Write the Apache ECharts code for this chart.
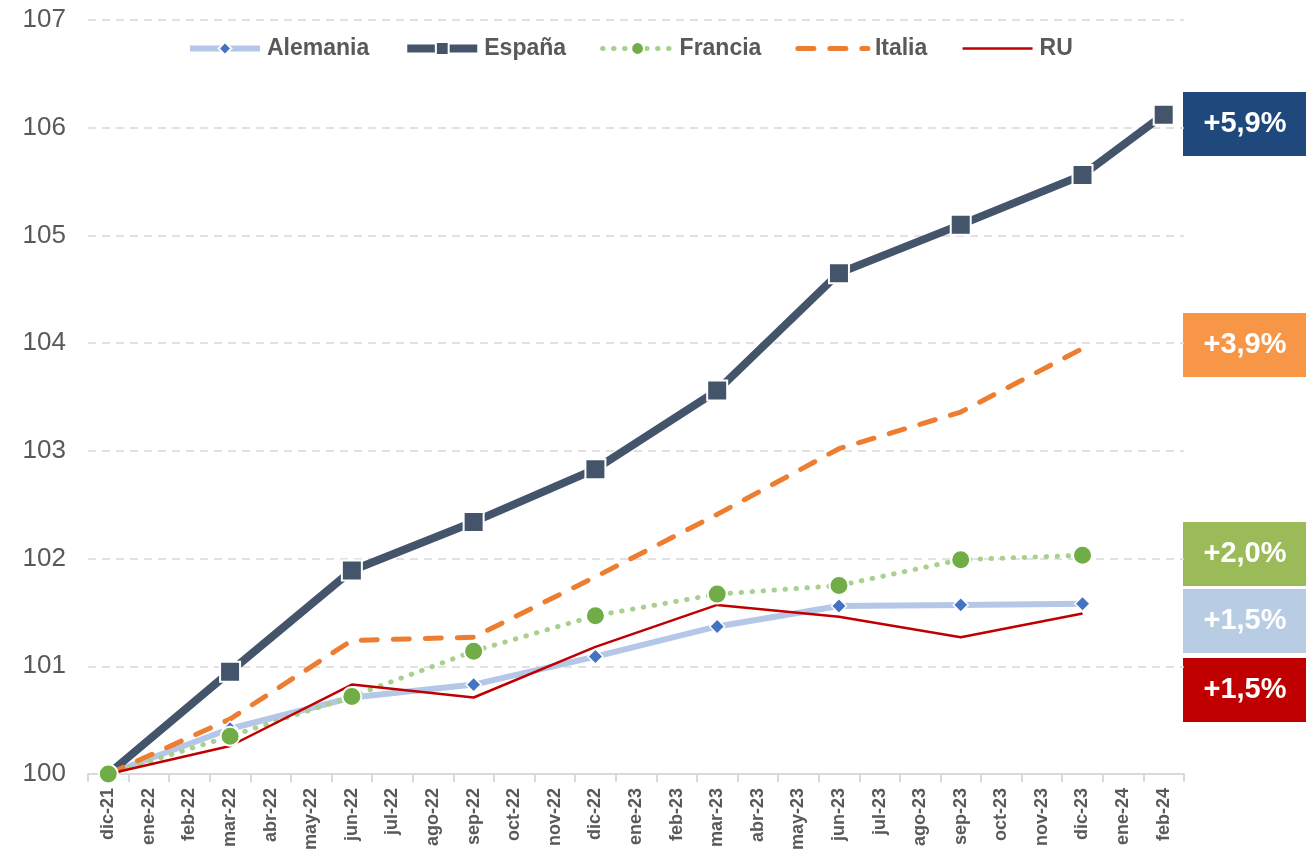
<!DOCTYPE html>
<html>
<head>
<meta charset="utf-8">
<script src="https://cdn.jsdelivr.net/npm/echarts@6/dist/echarts.min.js"></script>
<style>
  html, body { margin: 0; padding: 0; background: #fff; }
  #chart { width: 1306px; height: 861px; }
</style>
</head>
<body>
<div id="chart"></div>
<script>
// meses (eje X)
const months = ['dic-21','ene-22','feb-22','mar-22','abr-22','may-22','jun-22','jul-22','ago-22',
  'sep-22','oct-22','nov-22','dic-22','ene-23','feb-23','mar-23','abr-23','may-23','jun-23',
  'jul-23','ago-23','sep-23','oct-23','nov-23','dic-23','ene-24','feb-24'];
const n = null;
// índices (dic-21 = 100), datos trimestrales
const alemania = [100,n,n,100.42,n,n,100.71,n,n,100.83,n,n,101.09,n,n,101.37,n,n,101.56,n,n,101.57,n,n,101.58,n,n];
const espana   = [100,n,n,100.95,n,n,101.89,n,n,102.34,n,n,102.83,n,n,103.56,n,n,104.65,n,n,105.10,n,n,105.56,n,106.12];
const francia  = [100,n,n,100.35,n,n,100.72,n,n,101.14,n,n,101.47,n,n,101.67,n,n,101.75,n,n,101.99,n,n,102.03,n,n];
const italia   = [100,n,n,100.51,n,n,101.24,n,n,101.27,n,n,101.83,n,n,102.41,n,n,103.02,n,n,103.36,n,n,103.95,n,n];
const ru       = [100,n,n,100.26,n,n,100.83,n,n,100.71,n,n,101.18,n,n,101.57,n,n,101.46,n,n,101.27,n,n,101.49,n,n];
// etiquetas de variación
const badgeText  = ['+5,9%','+3,9%','+2,0%','+1,5%','+1,5%'];
const badgeColor = ['#1F497D','#F79646','#9BBB59','#B8CCE4','#C00000'];
const badgeTop   = [92, 313, 522, 589, 658];

const font = '"Liberation Sans", Arial, sans-serif';
const grey = '#595959';

const myChart = echarts.init(document.getElementById('chart'));

const badges = badgeText.map((t, i) => ({
  type: 'group',
  left: 1183, top: badgeTop[i],
  children: [
    { type: 'rect', shape: { x: 0, y: 0, width: 123, height: 64 }, style: { fill: badgeColor[i] } },
    { type: 'text', x: 62, y: 32, style: { text: t, fill: '#fff', font: 'bold 29px ' + font, align: 'center', verticalAlign: 'middle' } }
  ]
}));

// el primer punto de España queda oculto bajo Francia
const espanaData = espana.map((v, i) => i === 0 ? { value: v, symbol: 'none' } : v);

myChart.setOption({
  animation: false,
  textStyle: { fontFamily: font },
  legend: {
    top: 32, left: 182,
    itemWidth: 70, itemHeight: 16, itemGap: 34,
    lineStyle: { width: 'inherit' },
    textStyle: { color: grey, fontSize: 23, fontWeight: 'bold', fontFamily: font, padding: [0, 0, 0, 2] },
    data: [
      { name: 'Alemania' },
      { name: 'España' },
      { name: 'Francia' },
      { name: 'Italia', itemStyle: { opacity: 0 } },
      { name: 'RU', itemStyle: { opacity: 0 } }
    ]
  },
  grid: { left: 88, right: 122, top: 20, bottom: 87 },
  xAxis: {
    type: 'category',
    data: months,
    boundaryGap: true,
    axisLine: { lineStyle: { color: '#D9D9D9', width: 2 } },
    axisTick: { show: true, length: 8, lineStyle: { color: '#D9D9D9', width: 2 } },
    axisLabel: { interval: 0, rotate: 90, color: grey, fontSize: 18, fontWeight: 'bold', margin: 14, fontFamily: font }
  },
  yAxis: {
    type: 'value',
    min: 100, max: 107, interval: 1,
    axisLine: { show: false },
    axisTick: { show: false },
    axisLabel: { color: grey, fontSize: 26, margin: 22, fontFamily: font },
    splitLine: { lineStyle: { color: '#D9D9D9', type: [8, 6], width: 1.5 } }
  },
  series: [
    {
      name: 'Alemania', type: 'line', data: alemania, connectNulls: true,
      symbol: 'diamond', symbolSize: 15,
      lineStyle: { color: '#B4C7E7', width: 6 },
      itemStyle: { color: '#4472C4', borderColor: '#fff', borderWidth: 1.5 }
    },
    {
      name: 'España', type: 'line', data: espanaData, connectNulls: true,
      symbol: 'rect', symbolSize: 20,
      lineStyle: { color: '#44546A', width: 8 },
      itemStyle: { color: '#44546A', borderColor: '#fff', borderWidth: 2 }
    },
    {
      name: 'Francia', type: 'line', data: francia, connectNulls: true,
      symbol: 'circle', symbolSize: 19,
      lineStyle: { color: '#A9D18E', width: 5, type: [0.5, 10.5], cap: 'round' },
      itemStyle: { color: '#70AD47', borderColor: '#fff', borderWidth: 2 }
    },
    {
      name: 'Italia', type: 'line', data: italia, connectNulls: true,
      symbol: 'none',
      lineStyle: { color: '#ED7D31', width: 5, type: [16, 16], cap: 'round' },
      itemStyle: { color: '#ED7D31' }
    },
    {
      name: 'RU', type: 'line', data: ru, connectNulls: true,
      symbol: 'none',
      lineStyle: { color: '#C00000', width: 2.5 },
      itemStyle: { color: '#C00000' }
    }
  ],
  graphic: badges
});
</script>
</body>
</html>
